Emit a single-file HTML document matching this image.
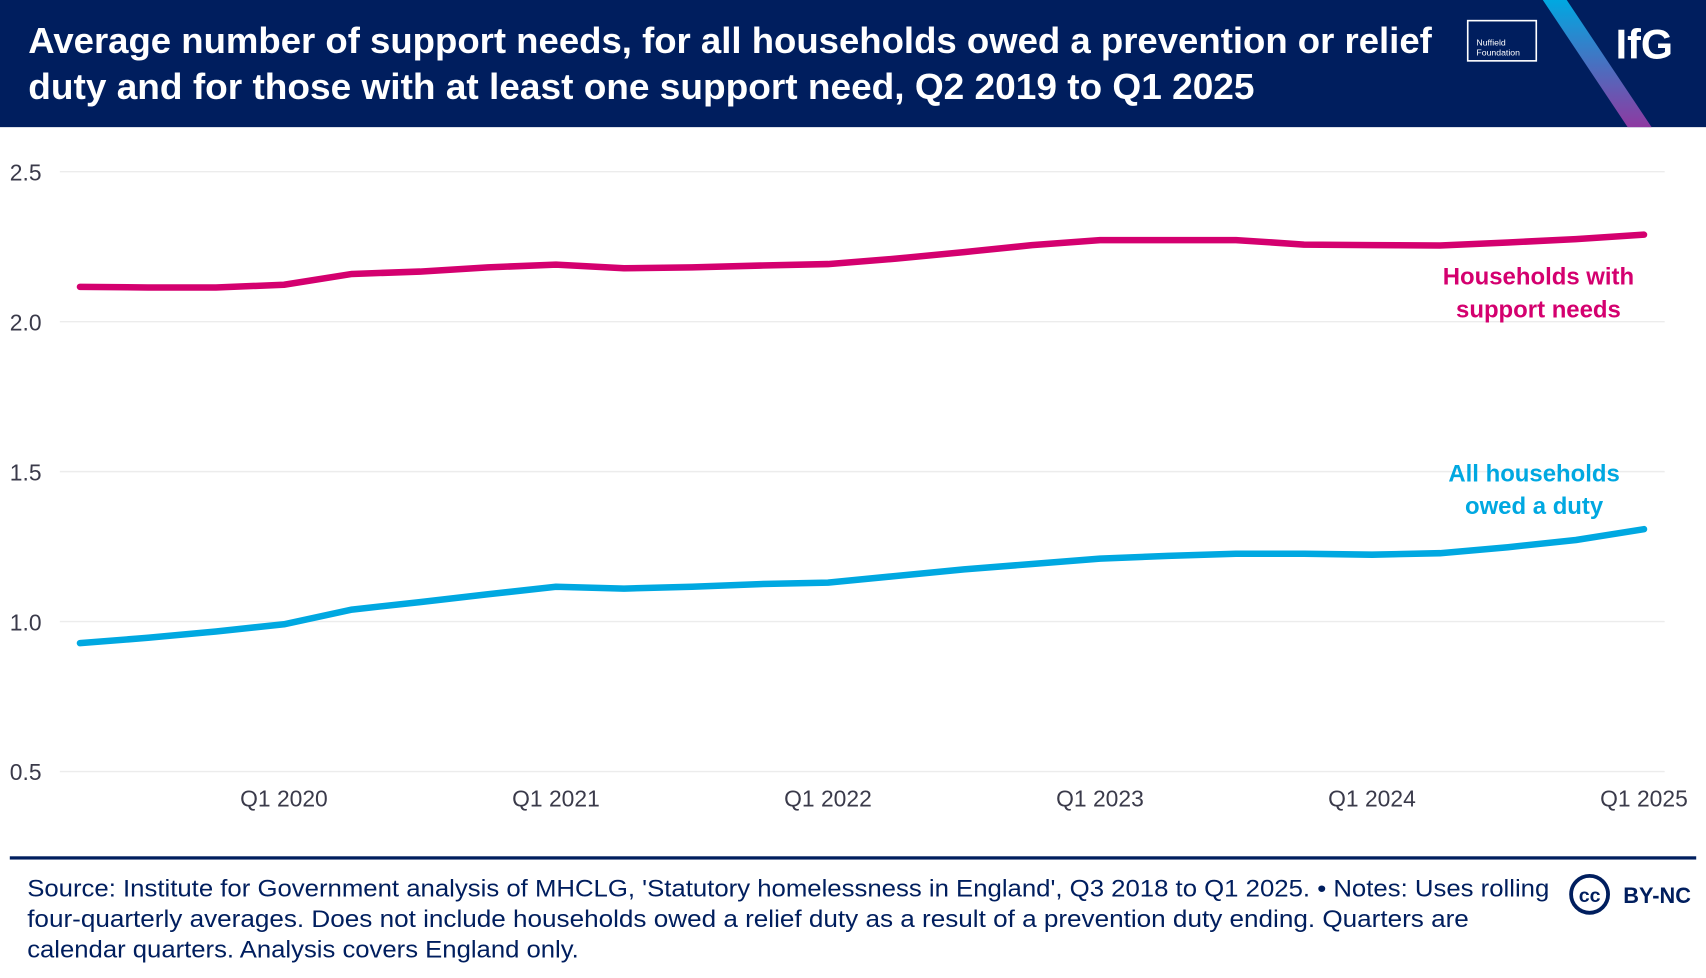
<!DOCTYPE html>
<html><head><meta charset="utf-8"><style>
html,body{margin:0;padding:0;background:#fff;width:1706px;height:978px;overflow:hidden}
svg{display:block;font-family:"Liberation Sans","DejaVu Sans",sans-serif}
</style></head><body>
<svg id="chart" width="1706" height="978" viewBox="0 0 1568 900" preserveAspectRatio="none" xmlns="http://www.w3.org/2000/svg">
<defs><linearGradient id="slash" x1="0" y1="0" x2="0" y2="1"><stop offset="0" stop-color="#00a8e1"/><stop offset="1" stop-color="#8e3aa1"/></linearGradient></defs>
<rect x="0" y="0" width="1568" height="117" fill="#001e5e"/>
<text fill="#fff" font-size="33" font-weight="bold"><tspan x="26" y="49" textLength="1290" lengthAdjust="spacingAndGlyphs">Average number of support needs, for all households owed a prevention or relief</tspan><tspan x="26" y="91" textLength="1127" lengthAdjust="spacingAndGlyphs">duty and for those with at least one support need, Q2 2019 to Q1 2025</tspan></text>
<g><rect x="1349" y="19" width="63" height="37" fill="none" stroke="#fff" stroke-width="1.5"/><text x="1357" y="42" fill="#fff" font-size="8">Nuffield</text><text x="1357" y="51" fill="#fff" font-size="8">Foundation</text></g>
<polygon points="1418,0 1440,0 1518,117 1496,117" fill="url(#slash)"/>
<text x="1485" y="54" fill="#fff" font-size="38" font-weight="bold">IfG</text>
<g id="grid"></g>
<g id="yticks"></g>
<g id="xticks"></g>
<g id="lines"></g>
<text fill="#d4006f" font-size="22" font-weight="bold" text-anchor="middle"><tspan x="1414" y="262">Households with</tspan><tspan x="1414" y="292">support needs</tspan></text>
<text fill="#00a8e1" font-size="22" font-weight="bold" text-anchor="middle"><tspan x="1410" y="443">All households</tspan><tspan x="1410" y="473">owed a duty</tspan></text>
<rect x="9" y="788" width="1550" height="3" fill="#001e5e"/>
<text fill="#001e5e" font-size="22"><tspan x="25" y="825" textLength="1399" lengthAdjust="spacingAndGlyphs">Source: Institute for Government analysis of MHCLG, 'Statutory homelessness in England', Q3 2018 to Q1 2025. • Notes: Uses rolling</tspan><tspan x="25" y="853" textLength="1325" lengthAdjust="spacingAndGlyphs">four-quarterly averages. Does not include households owed a relief duty as a result of a prevention duty ending. Quarters are</tspan><tspan x="25" y="881" textLength="507" lengthAdjust="spacingAndGlyphs">calendar quarters. Analysis covers England only.</tspan></text>
<g><circle cx="1461" cy="823" r="17" fill="none" stroke="#001e5e" stroke-width="3.5"/><text x="1461" y="830" text-anchor="middle" font-size="18" font-weight="bold" fill="#001e5e">cc</text><text x="1492" y="831" font-size="20" font-weight="bold" fill="#001e5e">BY-NC</text></g>
</svg>
<script>
const yTicks=[0.5,1.0,1.5,2.0,2.5];
const xTickLabels=["Q1 2020","Q1 2021","Q1 2022","Q1 2023","Q1 2024","Q1 2025"];
const xTickIndex=[3,7,11,15,19,23];
const supportNeeds=[2.116,2.114,2.114,2.123,2.159,2.167,2.181,2.190,2.178,2.181,2.187,2.192,2.210,2.232,2.255,2.272,2.272,2.272,2.257,2.255,2.254,2.264,2.275,2.290];
const allHouseholds=[0.928,0.946,0.967,0.991,1.040,1.065,1.091,1.116,1.110,1.116,1.125,1.130,1.152,1.174,1.192,1.210,1.219,1.226,1.226,1.223,1.228,1.248,1.272,1.308];
const NS="http://www.w3.org/2000/svg";
function y(v){return 710-(v-0.5)*276;}
function x(i){return 73.5+i*62.5;}
function mk(t,a,p){const e=document.createElementNS(NS,t);for(const k in a)e.setAttribute(k,a[k]);p.appendChild(e);return e;}
const grid=document.getElementById('grid'),yt=document.getElementById('yticks'),xt=document.getElementById('xticks'),ln=document.getElementById('lines');
yTicks.forEach(v=>{
 const g=mk('line',{x1:55,x2:1530,y1:y(v),y2:y(v),stroke:'#ececec','stroke-width':1.3},grid);
 
 
 const t=mk('text',{x:9,y:y(v)+8,'font-size':21,fill:'#3a3a4a'},yt);
 t.textContent=v.toFixed(1);
 
 
});
xTickLabels.forEach((l,k)=>{
 const t=mk('text',{x:x(xTickIndex[k]),y:742,'font-size':21,fill:'#3a3a4a','text-anchor':'middle'},xt);
 t.textContent=l;
 
 
});
function line(vals,col,name){
 const p=mk('polyline',{points:vals.map((v,i)=>x(i)+','+y(v)).join(' '),fill:'none',stroke:col,'stroke-width':6,'stroke-linejoin':'round','stroke-linecap':'round'},ln);
 
 
}
line(supportNeeds,'#d4006f','line-support-needs');
line(allHouseholds,'#00a8e1','line-all-households');
</script>
</body></html>
